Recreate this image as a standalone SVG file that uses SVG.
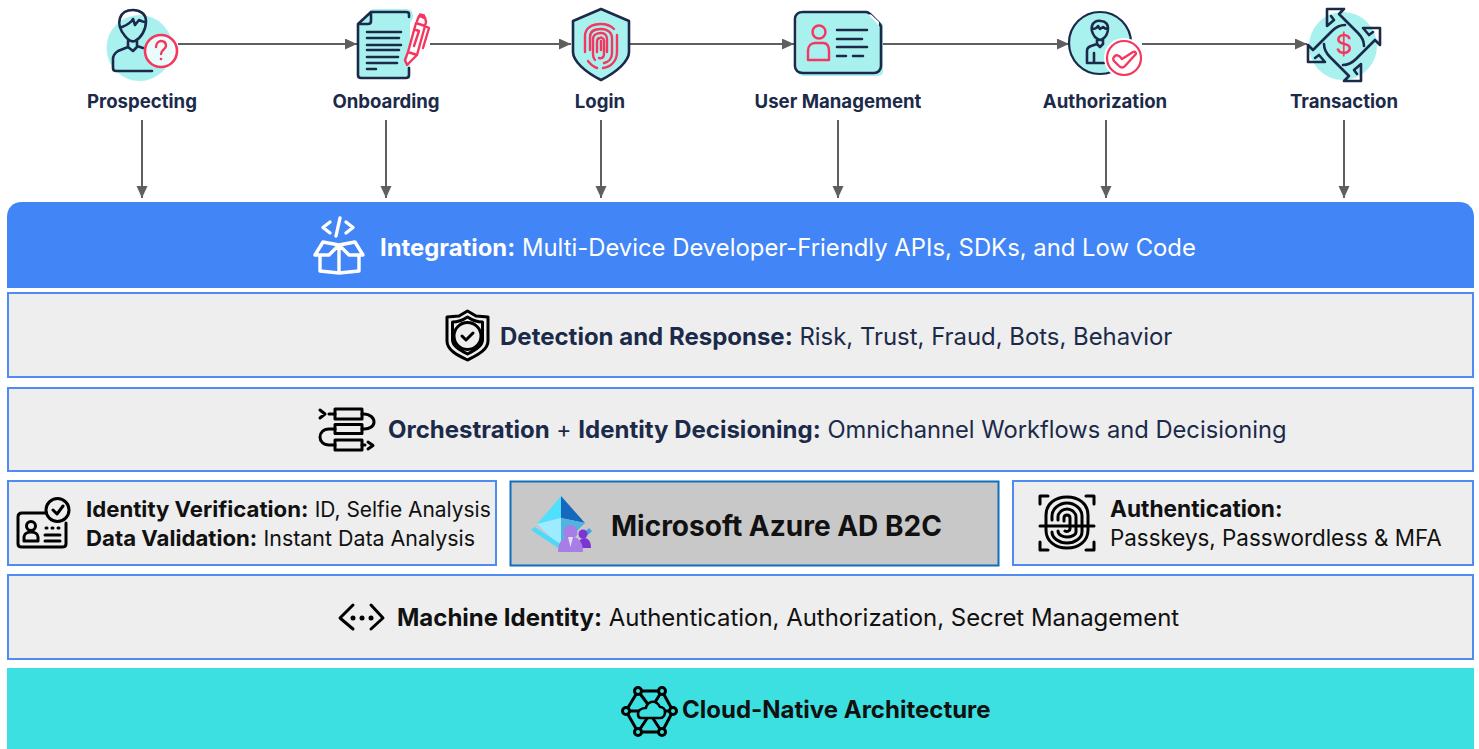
<svg xmlns="http://www.w3.org/2000/svg" width="1479" height="749" viewBox="0 0 1479 749">
<style>
text{font-family:Inter,"Noto Sans","Liberation Sans",sans-serif}
.lb{font-size:18.6px;font-weight:700;fill:#1c2a4a;text-anchor:middle}
.bd{fill:#eeeeee;stroke:#4f8bf0;stroke-width:2}
.t{font-size:24px;fill:#1c2a4a}
.k{font-size:24px;fill:#111}
.s{font-size:22.2px;fill:#111}
.b{font-weight:700}
.nv{fill:none;stroke:#1c2a4a;stroke-width:2.6;stroke-linecap:round;stroke-linejoin:round}
.rd{fill:none;stroke:#f5375f;stroke-width:2.4;stroke-linecap:round;stroke-linejoin:round}
.bk{fill:none;stroke:#000;stroke-width:3;stroke-linecap:round;stroke-linejoin:round}
.wh{fill:none;stroke:#fff;stroke-width:3.4;stroke-linecap:round;stroke-linejoin:round}
.cn{fill:none;stroke:#5f5f5f;stroke-width:2;marker-end:url(#a)}
.tl{fill:#a9f1ef}
</style>
<defs>
<marker id="a" markerUnits="userSpaceOnUse" markerWidth="13" markerHeight="12" refX="12" refY="5.5" orient="auto"><path d="M0 0L12 5.5L0 11Z" fill="#5f5f5f"/></marker>
<path id="tr" class="nv" d="M1344 9H1327V26L1334 20M1344 9L1339 14L1358 33C1362 37 1364 42 1364 46M1334 20L1331 16"/>
</defs>
<rect width="1479" height="749" fill="#fff"/>

<g id="connectors">
<path class="cn" d="M178 44H357"/><path class="cn" d="M430 44H571"/><path class="cn" d="M630 44H794"/><path class="cn" d="M883 44H1069"/><path class="cn" d="M1142 44H1307"/>
<path class="cn" d="M142 120V198"/><path class="cn" d="M386 120V198"/><path class="cn" d="M601 120V198"/><path class="cn" d="M838 120V198"/><path class="cn" d="M1106 120V198"/><path class="cn" d="M1344 120V198"/>
</g>

<g id="prospecting">
<circle class="tl" cx="139.500" cy="48" r="33"/>
<path class="nv" d="M125 36C120 30 118 24 120 18C122 12 127 10 133 10C140 10 146 14 146 21C146 30 141 38 135 41C132 42 128 40 125 36ZM122 27C127 25 131 23 133 19L135 25L139 20C141 21 143 22 145 22"/>
<path class="nv" d="M128 41V47L133 51L137 47V41M128 47L118 51C115 53 113 56 113 59V68C113 70 114 71 116 71H152M137 46L143 48"/>
<circle cx="161" cy="51" r="16" fill="#fff" fill-opacity=".75" stroke="#f5375f" stroke-width="2.600"/>
<path class="rd" d="M156 47C156 43 159 41 161 41C164 41 166 43 166 46C166 49 161 50 161 54"/>
<circle cx="161" cy="59" r="1.300" fill="#f5375f"/>
<text class="lb" x="142" y="108">Prospecting</text>
</g>

<g id="onboarding">
<rect class="tl" x="368" y="9" width="45" height="14" rx="6"/>
<path class="tl" d="M358 24L371 12H410V78H358Z"/>
<path class="nv" d="M409 17V14C409 12.500 408 12 406 12H371L358 24V75C358 77 359 78 361 78H406C408 78 409 77 409 75V68M371 12V21C371 23 370 24 368 24H358"/>
<path class="nv" d="M367 32H401M367 38H399M367 45H401M367 50H399M367 57H398M367 63H397M367 69H376"/>
<path d="M408 51L416 23L428 27L420 57L405 66Z" fill="#fff"/>
<path class="rd" d="M416 23L425 26L417 55L408 52ZM408 52L405 60L407 65L417 55M417 21L419 16L425 17.500L426 22L425 26M420 14.500L424 15.500L423 18M427 27L429 28L423 48M416 30L419 31L414 46"/>
<text class="lb" x="386" y="108">Onboarding</text>
</g>

<g id="login">
<path class="tl" d="M572 21L601 9L629 21V50C629 62 615 74 601 80C587 74 572 62 572 50Z"/>
<path class="nv" d="M573 21L601 9L629 21V52C629 61 617 72 601 80C585 72 573 61 573 52Z"/>
<path class="rd" d="M585 52V36C585 28 592 24 601 24C607 24 611 26 614 29M617 35V52C617 61 611 67 603 68M588 61C591 65 594 67 597 68M590 50V37C590 31 595 29 601 29C608 29 612 33 612 38V53C612 58 609 62 604 63M595 60C593 58 593 56 593 54V39C593 35 597 33 601 33C605 33 607 36 607 39V52M599 58C602 59 604 57 604 54V41C604 38 601 37 600 38C597 38 597 40 597 42V52M601 41V50"/>
<text class="lb" x="600" y="108">Login</text>
</g>

<g id="user-management">
<path class="tl" d="M797 16C797 13 800 12 803 12H867L883 24V72C883 75 880 76 877 76H804C800 76 797 73 797 70Z"/>
<path class="nv" d="M803 12H866C868 12 869 13 870 14L878 22C880 24 881 25 881 27V66C881 70 878 73 874 73H803C798 73 795 70 795 66V19C795 15 798 12 803 12Z"/>
<path d="M868 14.500L879 25.500V22L871 14.500Z" fill="#fff"/>
<circle class="rd" cx="819" cy="32" r="6.500"/>
<path class="rd" d="M808 60V51C808 46 811 43 815 43H823C827 43 829 46 829 51V60Z"/>
<path class="nv" d="M837 30H867M837 39H862M837 47H867M837 56H846M853 56H863"/>
<text class="lb" x="838" y="108">User Management</text>
</g>

<g id="authorization">
<circle class="tl" cx="1100" cy="43" r="31" stroke="#1c2a4a" stroke-width="2.200"/>
<path class="nv" d="M1095 37C1092 33 1091 29 1092 26C1093 22 1097 20 1101 21C1106 21 1108 25 1108 28C1108 34 1105 38 1101 40C1099 40 1097 39 1095 37ZM1092 29C1095 29 1097 28 1098 26L1100 29L1103 27C1104 28 1106 29 1108 29"/>
<path class="nv" d="M1097 40V44L1100 47L1103 44V40M1097 44L1091 46C1088 47 1087 49 1087 51V63H1104M1094 53V63"/>
<circle cx="1124" cy="58" r="20" fill="#fff"/>
<circle cx="1124" cy="58" r="17" fill="#fff" stroke="#f5375f" stroke-width="2.200"/>
<path class="rd" d="M1114 57C1116 54 1119 55 1122 59L1133 52C1135 51 1137 53 1135 55L1125 66C1123 68 1121 68 1119 66L1114 61C1113 60 1113 58 1114 57Z"/>
<text class="lb" x="1105" y="108">Authorization</text>
</g>

<g id="transaction">
<circle class="tl" cx="1343" cy="46" r="34"/>
<use href="#tr"/>
<use href="#tr" transform="rotate(90 1344 45)"/>
<use href="#tr" transform="rotate(180 1344 45)"/>
<use href="#tr" transform="rotate(270 1344 45)"/>
<text x="1344" y="54" font-size="27" font-weight="400" fill="#f5375f" text-anchor="middle">$</text>
<text class="lb" x="1344" y="108">Transaction</text>
</g>

<g id="integration">
<path d="M7 288V217C7 208 13 202 22 202H1459C1468 202 1474 208 1474 217V288Z" fill="#4285f6"/>
<path class="wh" d="M330 222L323 227.500L330 233M346 222L353 227.500L346 233M340 218L336 236"/>
<path class="wh" d="M339 245L323 242L315 255H329L339 245L349 255H363L355 242ZM339 245V273M320 256V271L339 273L359 271V256"/>
<text x="380" y="256" font-size="23.850" fill="#fff"><tspan class="b">Integration:</tspan> Multi-Device Developer-Friendly APIs, SDKs, and Low Code</text>
</g>

<g id="detection">
<rect class="bd" x="8" y="293" width="1465" height="84"/>
<path class="bk" d="M467.500 311L476 316L488 317V341C488 350 477 355 467.500 360C457 355 447 350 447 341V317L459 316Z"/>
<path class="bk" d="M467.500 317C460 322 456 322 452.500 322V340C452.500 346 460 350 467.500 354C475 350 482.500 346 482.500 340V322C479 322 475 322 467.500 317Z" stroke-width="1.800"/>
<circle class="bk" cx="467.500" cy="336" r="13.500" stroke-width="2.600"/>
<path class="bk" d="M462 336L466 340L473 333"/>
<text x="500" y="345" class="t"><tspan class="b">Detection and Response:</tspan> <tspan font-size="23.900">Risk, Trust, Fraud, Bots, Behavior</tspan></text>
</g>

<g id="orchestration">
<rect class="bd" x="8" y="388" width="1465" height="83"/>
<path class="bk" d="M320 410L325 414L320 418M368 442L373 445.500L368 449M329 414H335M362 414H364C370 414 374 418 374 422C374 426 370 429 364 429H362M335 429H329C323 429 320 433 320 437C320 441 323 445 329 445H335M362 445H365"/>
<rect class="bk" x="335" y="409" width="27" height="10"/>
<rect class="bk" x="335" y="424.500" width="27" height="9"/>
<rect class="bk" x="335" y="440" width="27" height="10"/>
<text x="388" y="438" class="t"><tspan class="b">Orchestration</tspan> <tspan font-size="23">+</tspan> <tspan class="b">Identity Decisioning:</tspan> <tspan font-size="23.720">Omnichannel Workflows and Decisioning</tspan></text>
</g>

<g id="identity-verification">
<rect class="bd" x="8" y="481" width="488" height="84"/>
<path class="bk" d="M45 513H22C19 513 18 515 18 517V544C18 546 19 547 22 547H62C65 547 66 546 66 544V523"/>
<circle cx="57.500" cy="510" r="11.500" fill="#eee" stroke="#000" stroke-width="3"/>
<path class="bk" d="M53 510L57 514L63 506"/>
<circle class="bk" cx="31" cy="526" r="4.500"/>
<path class="bk" d="M24 541V537C24 534 27 532 31 532C35 532 38 534 38 537V541Z"/>
<path class="bk" d="M46 528H47M52 528H53M58 528H59M45 535H60M45 541H60"/>
<text x="86" y="517" class="s"><tspan class="b">Identity Verification:</tspan> <tspan font-size="20.950">ID, Selfie Analysis</tspan></text>
<text x="86" y="545.500" class="s"><tspan class="b">Data Validation:</tspan> <tspan font-size="21.400">Instant Data Analysis</tspan></text>
</g>

<g id="azure-ad">
<rect x="510.500" y="481.500" width="488" height="84" fill="#c8c8c8" stroke="#0e6fbd" stroke-width="2"/>
<path d="M561 496L537 524L561 518Z" fill="#50e0fd"/>
<path d="M561 496L585 523L561 518Z" fill="#1468bd"/>
<path d="M537 524L561 518L561 547Z" fill="#9cebff"/>
<path d="M585 523L561 518L561 547Z" fill="#50b4de"/>
<path d="M531 530L535 527L562 545L558 548Z" fill="#50d8f8"/>
<path d="M585 532L589 528L592 531L588 535Z" fill="#4a9ee0"/>
<circle cx="583" cy="534" r="4.500" fill="#7a35d4"/>
<path d="M578 548C578 541 581 538 584 538C588 538 591 541 591 548Z" fill="#7a35d4"/>
<circle cx="570.500" cy="532" r="7" fill="#a97de6"/>
<path d="M558 552C558 541 563 537 570.500 537C578 537 583 541 583 552Z" fill="#a97de6"/>
<path d="M568 537H573L570.500 547Z" fill="#e8dcfa"/>
<text x="611" y="535.500" font-size="28" font-weight="700" fill="#111">Microsoft Azure AD B2C</text>
</g>

<g id="authentication">
<rect class="bd" x="1013" y="481" width="460" height="84"/>
<path class="bk" d="M1048 496H1040V504M1086 496H1094V504M1040 542V550H1048M1094 542V550H1086" stroke-linecap="square"/>
<path class="bk" d="M1040 526H1094"/>
<path class="bk" d="M1046 520V515C1046 504 1055 497 1067 497C1079 497 1088 504 1088 515V530C1088 541 1079 548 1067 548C1055 548 1046 541 1046 530Z"/>
<path class="bk" d="M1052 520V516C1052 509 1059 503 1067 503C1075 503 1082 509 1082 516V532C1082 538 1075 543 1067 543C1059 543 1052 538 1052 532M1058 520V517C1058 513 1062 509 1067 509C1072 509 1076 513 1076 517V532C1076 535 1071 537 1067 537C1063 537 1058 535 1058 531M1064 521V518C1064 514 1070 514 1070 518V529C1070 531 1067 532 1065 531" stroke-width="2.200"/>
<text x="1110" y="517" class="b" font-size="22.700" fill="#111">Authentication:</text>
<text x="1110" y="545.500" font-size="22.400" fill="#111">Passkeys, Passwordless &amp; MFA</text>
</g>

<g id="machine-identity">
<rect class="bd" x="8" y="575" width="1465" height="84"/>
<path class="bk" d="M353 605L340 618L353 629M371 605L383 618L371 629" stroke-width="3.400"/>
<circle cx="353" cy="618" r="2.500"/><circle cx="362" cy="618" r="2.500"/><circle cx="371" cy="618" r="2.500"/>
<text x="397" y="626" class="k"><tspan class="b">Machine Identity:</tspan> <tspan font-size="23.950">Authentication, Authorization, Secret Management</tspan></text>
</g>

<g id="cloud-native">
<path d="M7 749V668H1474V749Z" fill="#3de0e0"/>
<path class="bk" d="M638 691H662L673 711L662 732H638L626 711ZM638 691L650 707M662 691L652 707M638 732L648 717M662 732L652 717M626 711H638M673 711H663"/>
<circle cx="638" cy="691" r="3.500" fill="#3de0e0" stroke="#000" stroke-width="3"/><circle cx="662" cy="691" r="3.500" fill="#3de0e0" stroke="#000" stroke-width="3"/><circle cx="626" cy="711" r="3.500" fill="#3de0e0" stroke="#000" stroke-width="3"/><circle cx="673" cy="711" r="3.500" fill="#3de0e0" stroke="#000" stroke-width="3"/><circle cx="638" cy="732" r="3.500" fill="#3de0e0" stroke="#000" stroke-width="3"/><circle cx="662" cy="732" r="3.500" fill="#3de0e0" stroke="#000" stroke-width="3"/>
<path d="M641 718H660C664 718 665 714 665 712C665 709 663 707 660 707C658 703 655 701 651 702C648 703 646 706 646 708C642 708 638 710 638 714C638 716 639 718 641 718Z" fill="#3de0e0" stroke="#000" stroke-width="2.600" stroke-linejoin="round"/>
<text x="682" y="717.500" font-size="24" font-weight="700" fill="#111">Cloud-Native Architecture</text>
</g>
</svg>
